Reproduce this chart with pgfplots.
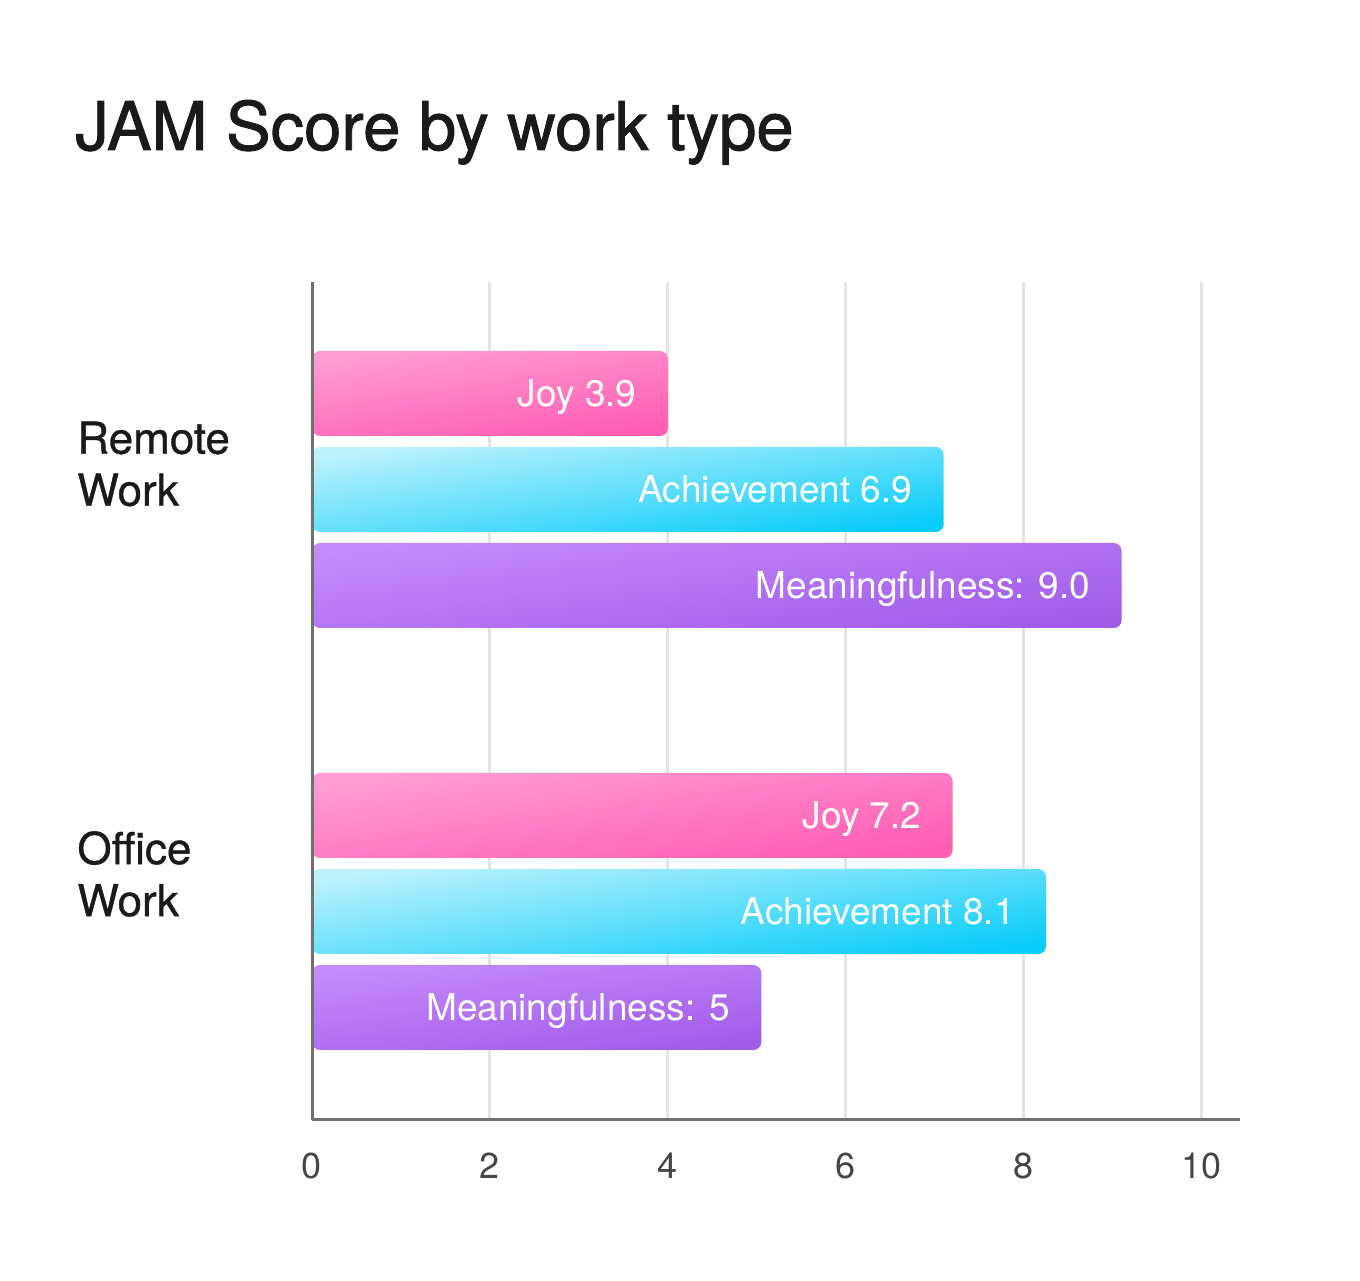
\documentclass[border=0pt]{standalone}
\usepackage{fontspec}
\setmainfont{TeX Gyre Heros}
\newfontfamily\titlefont{TeX Gyre Heros}[FakeBold=1.3]
\newfontfamily\catfont{TeX Gyre Heros}[FakeBold=0.8]
\usepackage{pgfplots}
\pgfplotsset{compat=1.18}

\definecolor{titlecol}{HTML}{1A1A1A}
\definecolor{axiscol}{HTML}{707070}
\definecolor{gridcol}{HTML}{E4E4E4}
\definecolor{tickcol}{HTML}{464646}
\definecolor{joyA}{HTML}{FF9DD3}
\definecolor{joyB}{HTML}{FF5CB3}
\definecolor{achA}{HTML}{BDF2FC}
\definecolor{achB}{HTML}{08CCFA}
\definecolor{meanA}{HTML}{C68BFD}
\definecolor{meanB}{HTML}{A05BE8}

\pgfplotsset{
  jambar/.style={xbar, bar width=42.5pt, bar shift=0pt, draw=none,
    top color=#1A, bottom color=#1B, shading angle=8,
    rounded corners=4pt,
    nodes near coords, point meta=explicit symbolic,
    nodes near coords style={anchor=base east, xshift=-15.5pt, yshift=-6.5pt,
      inner sep=0pt, text=white, font=\fontsize{18.5}{20}\selectfont}},
}

\begin{document}
\begin{tikzpicture}
\path[use as bounding box] (0,0) rectangle (680pt,640pt);
\node[anchor=base west, inner sep=0pt, text=titlecol,
  font=\titlefont\fontsize{33.5}{36}\selectfont] at (37.5pt,565pt) {JAM Score by work type};
\begin{axis}[
  at={(156pt,80pt)}, anchor=south west,
  scale only axis, width=464pt, height=419pt,
  xmin=0, xmax=10.43, ymin=0, ymax=8.729,
  enlargelimits=false,
  axis x line*=bottom, axis y line*=left,
  axis line style={axiscol, line width=1.5pt, -},
  xtick={0,2,4,6,8,10},
  ytick={6.833,2.5625},
  yticklabels={{Remote\\Work},{Office\\Work}},
  major tick length=0pt,
  xmajorgrids, grid style={gridcol, line width=1.5pt},
  /pgf/number format/assume math mode=true,
  xticklabel style={font=\fontsize{18}{20}\selectfont, text=tickcol,
    inner sep=0pt, anchor=north, yshift=-16.5pt},
  yticklabel style={font=\catfont\fontsize{22}{26}\selectfont, text=titlecol,
    align=left, anchor=west, inner sep=0pt, xshift=-117.5pt},
]
% Remote Work
\addplot[jambar=joy]  coordinates {(4.0,7.5677) [Joy 3.9]};
\addplot[jambar=ach]  coordinates {(7.1,6.5677) [Achievement 6.9]};
\addplot[jambar=mean] coordinates {(9.1,5.5677) [Meaningfulness: 9.0]};
% Office Work
\addplot[jambar=joy]  coordinates {(7.2,3.1719) [Joy 7.2]};
\addplot[jambar=ach]  coordinates {(8.25,2.1719) [Achievement 8.1]};
\addplot[jambar=mean] coordinates {(5.05,1.1719) [Meaningfulness: 5]};
\draw[axiscol, line width=1.5pt] (axis cs:0,0) -- (axis cs:0,8.729);
\end{axis}
\end{tikzpicture}
\end{document}
